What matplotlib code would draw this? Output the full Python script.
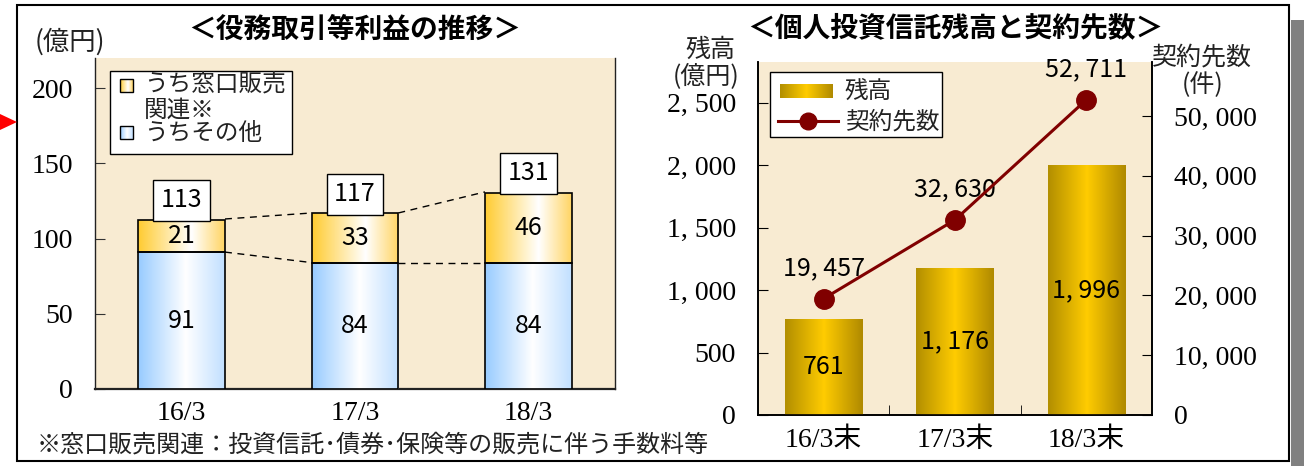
import numpy as np
import matplotlib
matplotlib.use("Agg")
import matplotlib.pyplot as plt
from matplotlib.patches import Rectangle, Polygon
from matplotlib.lines import Line2D
from matplotlib.colors import LinearSegmentedColormap
from matplotlib.ticker import FuncFormatter

plt.rcParams["font.family"] = ["Noto Sans CJK JP", "DejaVu Sans"]

# --- data ---
left_cats = ["16/3", "17/3", "18/3"]
madoguchi = [21, 33, 46]      # うち窓口販売関連
sonota = [91, 84, 84]         # うちその他
totals = [113, 117, 131]

right_cats = ["16/3末", "17/3末", "18/3末"]
zandaka = [761, 1176, 1996]          # 残高（億円）
keiyaku = [19457, 32630, 52711]      # 契約先数（件）

W, H = 1304, 466
BG = "#F8EBD2"
SERIF = ["Liberation Serif", "Noto Sans CJK JP"]
DARKRED = "#800000"
TICK_FS = 20
VAL_FS = 18


def fx(px):
    return px / W


def fy(py):
    return 1 - py / H


def grad(stops, n=80):
    cmap = LinearSegmentedColormap.from_list("g", stops)
    return cmap(np.linspace(0, 1, n))[None, :, :3]


BLUE = grad([(0, "#99CCFF"), (0.55, "#FFFFFF"), (1, "#C2E0FF")])
YELLOW = grad([(0, "#FFCC33"), (0.62, "#FFFFFF"), (1, "#FFD566")])
GOLD = grad([(0, "#B38F00"), (0.5, "#FFCC00"), (1, "#B08A00")])


def fill_bars(ax, bars, img):
    for b in bars:
        x0, y0 = b.get_x(), b.get_y()
        ax.imshow(img, extent=(x0, x0 + b.get_width(), y0, y0 + b.get_height()),
                  aspect="auto", interpolation="bilinear", zorder=b.get_zorder() - 0.1)


def comma_fmt(v, _=None):
    return f"{int(round(v)):,}".replace(",", ", ")


fig = plt.figure(figsize=(W / 100, H / 100), dpi=100)
fig.patch.set_facecolor("white")

# ---------------- left chart ----------------
axL = fig.add_axes([fx(95), fy(389), (615 - 95) / W, (389 - 58) / H])
axL.set_facecolor(BG)
x = np.arange(len(left_cats))
bw = 0.5
b1 = axL.bar(x, sonota, bw, facecolor="none", edgecolor="black", linewidth=1.2, zorder=3)
b2 = axL.bar(x, madoguchi, bw, bottom=sonota, facecolor="none", edgecolor="black",
             linewidth=1.2, zorder=3)
fill_bars(axL, b1, BLUE)
fill_bars(axL, b2, YELLOW)

for i in range(len(x) - 1):
    axL.plot([x[i] + bw / 2, x[i + 1] - bw / 2], [totals[i], totals[i + 1]],
             color="black", lw=1, dashes=(5, 4), zorder=2)
    axL.plot([x[i] + bw / 2, x[i + 1] - bw / 2], [sonota[i], sonota[i + 1]],
             color="black", lw=1, dashes=(5, 4), zorder=2)

for i in range(len(x)):
    axL.text(x[i], sonota[i] / 2, str(sonota[i]), ha="center", va="center",
             fontsize=VAL_FS, zorder=5)
    axL.text(x[i], sonota[i] + madoguchi[i] / 2, str(madoguchi[i]), ha="center",
             va="center", fontsize=VAL_FS, zorder=5)
    axL.annotate(str(totals[i]), (x[i], totals[i]), xytext=(0, 4),
                 textcoords="offset points", ha="center", va="bottom", fontsize=VAL_FS,
                 bbox=dict(boxstyle="square,pad=0.3", fc="white", ec="black", lw=1),
                 zorder=6)

axL.set_xlim(-0.5, 2.5)
axL.set_ylim(0, 220)
axL.set_yticks([0, 50, 100, 150, 200])
axL.set_xticks(x)
axL.set_xticklabels(left_cats)
axL.tick_params(axis="y", direction="in", length=7, pad=16, labelsize=TICK_FS, color="#333333")
axL.tick_params(axis="x", length=0, pad=9, labelsize=TICK_FS)
for lab in axL.get_xticklabels() + axL.get_yticklabels():
    lab.set_fontfamily(SERIF)
axL.spines["top"].set_visible(False)
for s in ["left", "right", "bottom"]:
    axL.spines[s].set_color("#222222")
    axL.spines[s].set_linewidth(1.0)
axL.spines["bottom"].set_linewidth(1.6)

# ---------------- right chart ----------------
axR = fig.add_axes([fx(758), fy(415), (1152 - 758) / W, (415 - 62) / H])
axR.set_facecolor(BG)
xr = np.arange(len(right_cats))
gb = axR.bar(xr, zandaka, 0.59, facecolor="none", edgecolor="none", zorder=3)
fill_bars(axR, gb, GOLD)
for i in range(len(xr)):
    axR.text(xr[i], zandaka[i] / 2, comma_fmt(zandaka[i]), ha="center", va="center",
             fontsize=VAL_FS, zorder=5)
axR.set_xlim(-0.5, 2.5)
axR.set_ylim(0, 2824)
axR.set_yticks([0, 500, 1000, 1500, 2000, 2500])
axR.yaxis.set_major_formatter(FuncFormatter(comma_fmt))
axR.set_xticks(xr)
axR.set_xticklabels(right_cats)
axR.set_xticks([0.5, 1.5], minor=True)
axR.tick_params(axis="x", which="major", length=0, pad=9, labelsize=TICK_FS)
axR.tick_params(axis="x", which="minor", direction="in", length=7)
axR.tick_params(axis="y", direction="in", length=7, pad=16, labelsize=TICK_FS)
for lab in axR.get_xticklabels() + axR.get_yticklabels():
    lab.set_fontfamily(SERIF)

axR2 = axR.twinx()
axR2.plot(xr, keiyaku, color=DARKRED, lw=2.2, marker="o", ms=14, zorder=5)
for i in range(len(xr)):
    axR2.annotate(comma_fmt(keiyaku[i]), (xr[i], keiyaku[i]), xytext=(0, 22),
                  textcoords="offset points", ha="center", va="center", fontsize=VAL_FS)
axR2.set_ylim(0, 59030)
axR2.set_yticks([0, 10000, 20000, 30000, 40000, 50000])
axR2.yaxis.set_major_formatter(FuncFormatter(comma_fmt))
axR2.tick_params(axis="y", direction="in", length=7, pad=16, labelsize=TICK_FS)
for lab in axR2.get_yticklabels():
    lab.set_fontfamily(SERIF)
for a in (axR, axR2):
    a.spines["top"].set_visible(False)
    for s in ["left", "right", "bottom"]:
        a.spines[s].set_color("black")
        a.spines[s].set_linewidth(1.2)

# ---------------- overlay: frame, legends, texts ----------------
ov = fig.add_axes([0, 0, 1, 1], zorder=10)
ov.axis("off")
ov.patch.set_alpha(0)

ov.add_patch(Rectangle((1291, 20), 13, 446, fc="#808080", ec="none"))
ov.add_patch(Rectangle((17, 5), 1272, 456, fill=False, ec="black", lw=1.5))
ov.add_patch(Polygon([(0, 114), (17, 122), (0, 130)], closed=True, fc="#FF0000", ec="none"))

# left legend
ov.add_patch(Rectangle((110, 71), 182, 83, fc="white", ec="black", lw=1))
ov.imshow(YELLOW, extent=(120, 133, 92, 79), aspect="auto", zorder=2)
ov.add_patch(Rectangle((120, 79), 13, 13, fill=False, ec="black", lw=1, zorder=3))
ov.imshow(BLUE, extent=(120, 133, 139, 126), aspect="auto", zorder=2)
ov.add_patch(Rectangle((120, 126), 13, 13, fill=False, ec="black", lw=1, zorder=3))
ov.text(144, 85, "うち窓口販売", fontsize=17, va="center", color="#222222")
ov.text(144, 110, "関連※", fontsize=17, va="center", color="#222222")
ov.text(144, 134, "うちその他", fontsize=17, va="center", color="#222222")

# right legend
ov.add_patch(Rectangle((770, 72), 172, 65, fc="white", ec="black", lw=1))
ov.imshow(GOLD, extent=(780, 833, 98, 84), aspect="auto", zorder=2)
ov.add_artist(Line2D([778, 838], [121, 121], color=DARKRED, lw=2.2))
ov.add_artist(Line2D([808], [121], color=DARKRED, marker="o", ms=12))
ov.text(845, 92, "残高", fontsize=17, va="center", color="#222222")
ov.text(845, 122, "契約先数", fontsize=17, va="center", color="#222222")
ov.set_xlim(0, W)
ov.set_ylim(H, 0)

# titles and labels
fig.text(fx(355), fy(30), "＜役務取引等利益の推移＞", ha="center", va="center",
         fontsize=20, fontweight="bold")
fig.text(fx(955), fy(28), "＜個人投資信託残高と契約先数＞", ha="center", va="center",
         fontsize=20, fontweight="bold")
fig.text(fx(70), fy(42), "(億円)", ha="center", va="center", fontsize=19, color="#222222")
fig.text(fx(710), fy(50), "残高", ha="center", va="center", fontsize=18, color="#222222")
fig.text(fx(706), fy(77), "(億円)", ha="center", va="center", fontsize=18, color="#222222")
fig.text(fx(1202), fy(57), "契約先数", ha="center", va="center", fontsize=18, color="#222222")
fig.text(fx(1203), fy(85), "(件)", ha="center", va="center", fontsize=18, color="#222222")
fig.text(fx(37), fy(445), "※窓口販売関連：投資信託･債券･保険等の販売に伴う手数料等",
         ha="left", va="center", fontsize=17.3, color="#222222")

fig.savefig("out.png", dpi=100)
